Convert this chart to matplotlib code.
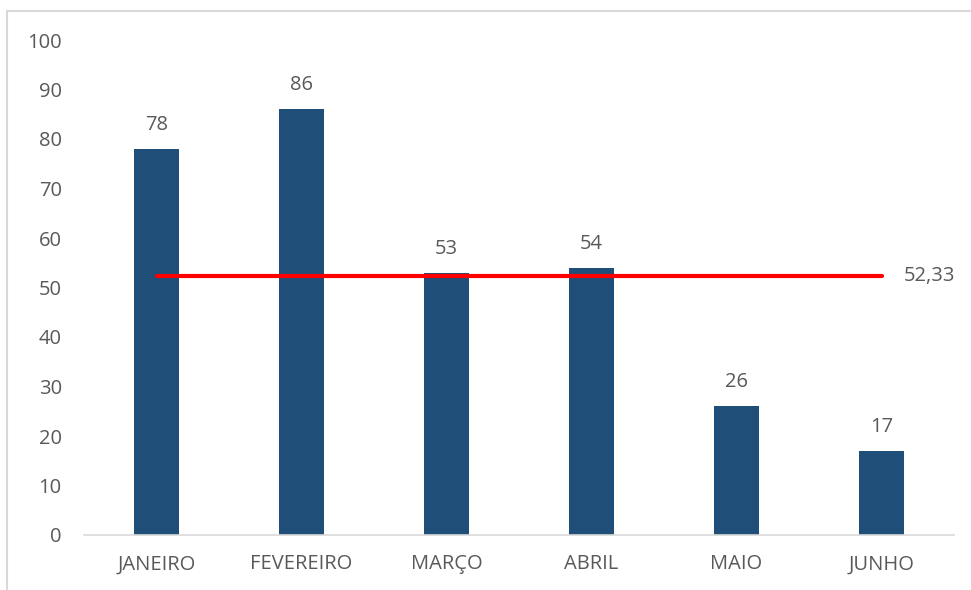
import numpy as np
import matplotlib.pyplot as plt
from matplotlib.patches import Rectangle

# dados
meses = ["JANEIRO", "FEVEREIRO", "MARÇO", "ABRIL", "MAIO", "JUNHO"]
valores = [78, 86, 53, 54, 26, 17]
media = 52.33
yticks = [0, 10, 20, 30, 40, 50, 60, 70, 80, 90, 100]

plt.rcParams["font.family"] = ["Open Sans", "DejaVu Sans"]
cor_txt = "#595959"
fs = 14.5

fig = plt.figure(figsize=(9.71, 5.9), dpi=100)
ax = fig.add_axes([84 / 971, 1 - 535 / 590, 870 / 971, 495 / 590])

# moldura do gráfico (só topo e esquerda visíveis)
fig.patches.append(Rectangle((7 / 971, -0.1), 1.2, 1 - 11 / 590 + 0.1, transform=fig.transFigure,
                             fill=False, edgecolor="#d9d9d9", lw=1.5))

x = np.arange(len(meses))
ax.bar(x, valores, width=0.31, color="#1f4e79", zorder=2)
for xi, v in zip(x, valores):
    ax.annotate(str(v), (xi, v), xytext=(0, 10), textcoords="offset points",
                ha="center", va="bottom", fontsize=fs, color=cor_txt)

ax.plot([x[0], x[-1]], [media, media], color="#ff0000", lw=3, solid_capstyle="round", zorder=3)
ax.annotate(f"{media:.2f}".replace(".", ","), (x[-1], media), xytext=(16, 0),
            textcoords="offset points", ha="left", va="center", fontsize=fs, color=cor_txt)

ax.set_xlim(-0.5, len(meses) - 0.5)
ax.set_ylim(0, 100)
ax.set_yticks(yticks)
ax.set_xticks(x, meses)
ax.tick_params(axis="both", length=0, labelsize=fs, labelcolor=cor_txt)
ax.tick_params(axis="y", pad=16)
ax.tick_params(axis="x", pad=14)
for s in ["top", "right", "left"]:
    ax.spines[s].set_visible(False)
ax.spines["bottom"].set_color("#d9d9d9")
ax.spines["bottom"].set_linewidth(1.2)

fig.savefig("out.png", dpi=100)
